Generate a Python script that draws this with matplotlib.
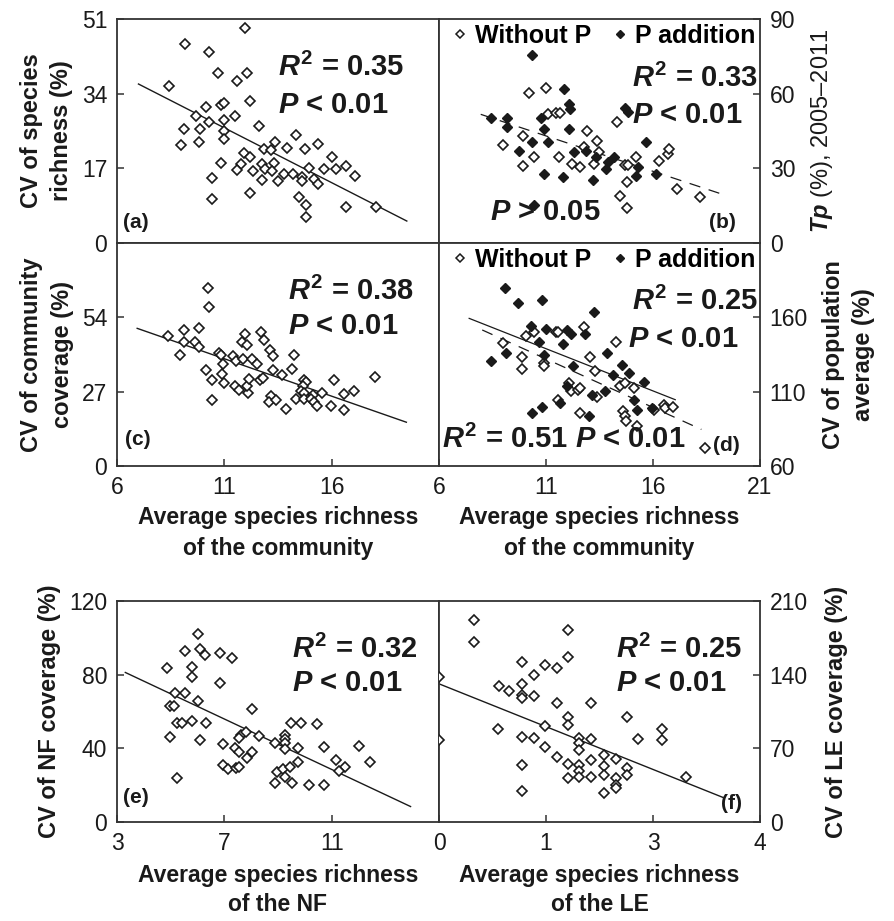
import matplotlib
matplotlib.use("Agg")
import matplotlib.pyplot as plt
from matplotlib.lines import Line2D

plt.rcParams['font.family'] = ['Liberation Sans', 'DejaVu Sans']
plt.rcParams['mathtext.fontset'] = 'custom'
plt.rcParams['mathtext.it'] = 'Liberation Sans:italic:bold'
plt.rcParams['mathtext.rm'] = 'Liberation Sans:bold'
plt.rcParams['mathtext.bf'] = 'Liberation Sans:bold'

# ---------------- data ----------------
# (a) CV of species richness vs average species richness of the community
a_x = [11.95, 9.15, 10.27, 10.70, 12.07, 11.61, 8.42, 12.18, 10.13, 10.83, 10.98, 9.66, 10.29,
       10.98, 11.50, 9.11, 9.85, 10.97, 12.61, 8.97, 9.82, 10.97, 13.34, 14.32, 15.36, 12.85,
       13.16, 13.92, 14.77, 11.92, 16.03, 12.18, 10.83, 11.76, 12.77, 13.31, 11.61, 12.34,
       12.88, 13.24, 14.94, 15.64, 16.19, 16.65, 17.07, 13.78, 14.20, 14.63, 14.63, 15.18,
       15.36, 12.77, 13.50, 10.44, 10.44, 12.18, 14.48, 14.82, 14.79, 16.65, 18.05]
a_y = [49.0, 45.4, 43.6, 38.8, 38.8, 36.8, 35.7, 32.3, 30.9, 31.4, 31.9, 28.9, 27.6,
       27.9, 29.0, 25.9, 25.9, 25.5, 26.6, 22.3, 23.1, 23.6, 23.0, 24.5, 22.6, 21.4,
       21.1, 21.7, 21.4, 20.6, 19.6, 19.5, 18.3, 18.1, 18.0, 18.3, 16.6, 16.5,
       16.8, 16.5, 17.0, 16.8, 16.8, 17.6, 15.3, 15.7, 15.7, 15.1, 14.2, 14.6,
       13.5, 14.4, 14.2, 14.7, 10.1, 11.4, 10.4, 8.7, 5.9, 8.2, 8.2]
a_fit_x = [7.0, 19.5]
a_fit_y = [36.2, 5.0]

# (b) Tp (%), 2005-2011
b_open_x = [10.19, 11.0, 11.08, 11.45, 11.65, 14.33, 9.91, 12.92, 13.39, 9.0, 10.42, 9.91,
            11.63, 12.22, 12.59, 12.77, 13.23, 13.47, 14.67, 14.83, 15.22, 16.27, 16.70,
            16.75, 14.8, 14.48, 14.8, 17.14, 18.19]
b_open_y = [60.4, 62.4, 52.0, 52.1, 52.1, 48.8, 43.1, 45.1, 41.1, 39.3, 34.4, 31.1,
            34.4, 31.7, 30.4, 38.4, 31.7, 36.4, 31.3, 31.3, 34.4, 33.1, 35.7,
            37.7, 24.4, 18.7, 14.0, 21.7, 18.4]
b_fill_x = [10.33, 11.86, 12.09, 12.14, 8.42, 9.2, 9.16, 10.77, 10.92, 12.06, 14.67, 14.83,
            9.75, 10.34, 11.08, 15.69, 12.33, 12.88, 13.34, 13.89, 14.2, 13.81, 15.30,
            15.22, 16.13, 10.89, 11.78, 13.19, 10.45]
b_fill_y = [75.7, 61.7, 55.7, 53.7, 50.4, 50.4, 46.7, 50.4, 45.7, 45.7, 54.4, 52.8,
            37.1, 40.4, 40.4, 40.4, 36.4, 36.8, 34.4, 32.4, 34.4, 29.7, 30.4,
            27.1, 27.7, 27.7, 26.4, 25.3, 15.1]
b_fit_x = [7.95, 19.2]
b_fit_y = [51.7, 19.7]

# (c) CV of community coverage
c_x = [10.25, 10.30, 9.13, 9.80, 8.39, 9.13, 9.64, 9.83, 8.94, 11.98, 12.69, 11.83, 12.06,
       12.83, 13.14, 13.27, 14.23, 10.73, 10.84, 11.42, 11.55, 11.86, 12.30, 12.53, 10.94,
       10.13, 13.27, 13.70, 14.13, 10.88, 10.41, 11.0, 11.52, 11.70, 12.09, 12.05, 12.14,
       12.67, 12.80, 13.17, 13.08, 13.42, 13.86, 10.41, 14.70, 14.81, 14.66, 14.58, 14.73,
       14.33, 14.73, 15.14, 15.05, 15.20, 15.30, 15.53, 16.11, 16.58, 17.02, 15.97, 16.59,
       18.0]
c_y = [64.5, 57.9, 49.4, 50.0, 47.2, 45.2, 45.2, 43.4, 40.4, 47.9, 48.6, 45.2, 44.0,
       45.6, 42.2, 39.8, 40.4, 41.2, 40.4, 40.0, 38.2, 38.8, 38.8, 37.0, 37.0,
       34.7, 34.7, 33.1, 35.2, 33.4, 31.3, 30.1, 28.9, 27.7, 26.5, 29.2, 31.6,
       31.1, 31.9, 25.3, 23.3, 24.1, 20.7, 24.1, 31.3, 30.4, 29.2, 27.1, 26.5,
       24.5, 24.5, 25.9, 24.4, 23.1, 21.9, 26.5, 31.1, 26.3, 27.1, 21.9, 20.2,
       32.3]
c_fit_x = [6.94, 19.48]
c_fit_y = [50.0, 15.9]

# (d) CV of population average
d_fill_x = [9.09, 9.67, 10.80, 13.26, 10.31, 11.0, 11.99, 12.15, 12.80, 11.81, 10.69, 9.13,
            8.45, 10.92, 13.83, 14.56, 14.90, 14.13, 15.56, 12.27, 11.99, 13.14, 13.75,
            15.13, 15.25, 15.97, 11.66, 10.82, 10.36, 13.03]
d_fill_y = [179.4, 169.4, 171.6, 163.8, 154.2, 152.0, 151.5, 148.8, 148.8, 142.1, 143.3, 135.9,
            130.3, 134.8, 135.9, 128.1, 122.5, 121.4, 116.5, 127.0, 113.6, 108.0, 110.2,
            104.6, 98.0, 99.1, 102.4, 99.5, 95.7, 93.9]
d_open_x = [9.01, 10.08, 10.43, 11.46, 11.58, 12.79, 14.26, 9.88, 9.88, 10.92, 10.92, 13.06,
            13.29, 12.07, 12.15, 12.50, 12.61, 13.37, 11.54, 14.44, 14.67, 15.13, 14.59,
            14.67, 14.72, 15.24, 12.61, 16.50, 16.58, 16.92, 16.05, 18.42]
d_open_y = [143.0, 147.5, 150.4, 150.4, 150.4, 153.8, 143.3, 133.2, 125.2, 129.2, 127.0, 133.2,
            123.6, 115.8, 110.2, 110.9, 112.5, 106.2, 104.6, 113.6, 115.8, 112.5, 96.8,
            93.9, 90.1, 86.8, 95.7, 101.3, 99.1, 99.7, 98.0, 72.3]
d_fit1_x = [7.41, 17.04]
d_fit1_y = [159.3, 104.6]
d_fit2_x = [8.02, 18.26]
d_fit2_y = [151.5, 84.6]

# (e) CV of NF coverage vs average species richness of the NF
e_x = [6.0, 5.54, 6.09, 6.29, 6.85, 7.28, 4.88, 5.81, 5.81, 6.85, 5.16, 5.53, 6.0, 4.96, 5.13,
       8.04, 5.25, 5.44, 5.81, 6.31, 4.98, 6.09, 9.48, 9.84, 10.44, 7.63, 7.81, 7.56, 8.28,
       8.88, 9.25, 9.25, 9.25, 9.25, 9.73, 10.73, 12.0, 6.96, 7.41, 7.54, 8.04, 7.85, 9.75,
       11.16, 12.44, 11.5, 11.29, 6.96, 7.13, 7.44, 7.56, 8.98, 9.19, 9.44, 9.25, 8.88, 9.54,
       10.15, 10.73, 5.25]
e_y = [102.2, 92.8, 93.7, 90.5, 91.6, 88.9, 83.6, 84.3, 78.6, 75.6, 70.0, 70.2, 65.6, 62.9, 62.9,
       61.2, 53.7, 54.0, 54.9, 53.7, 46.0, 44.3, 53.7, 53.7, 53.2, 47.5, 48.9, 45.7, 46.6,
       42.7, 47.5, 45.3, 43.0, 39.5, 40.0, 40.7, 41.2, 42.5, 40.0, 38.2, 38.2, 34.7, 32.7,
       33.6, 32.7, 29.7, 27.9, 30.9, 28.8, 29.2, 30.0, 27.0, 28.8, 29.7, 24.7, 21.2, 21.2,
       20.3, 20.3, 24.0]
e_fit_x = [3.31, 13.94]
e_fit_y = [81.2, 8.4]

# (f) CV of LE coverage vs average species richness of the LE
f_x = [0.44, 0.44, 1.61, 1.61, 1.03, 1.32, 1.47, 1.18, 0.0, 1.03, 0.75, 0.87, 1.03, 1.03,
       1.18, 1.47, 1.89, 1.61, 1.61, 2.34, 1.32, 0.73, 2.78, 2.78, 2.48, 1.03, 1.18, 1.75,
       1.89, 0.0, 1.75, 1.32, 1.75, 1.47, 1.61, 1.75, 1.89, 2.05, 2.2, 2.05, 2.34, 1.75,
       1.89, 2.05, 1.61, 1.75, 2.2, 2.2, 2.2, 2.34, 1.03, 1.03, 2.05, 3.08]
f_y = [192.0, 171.1, 182.0, 157.1, 152.4, 149.0, 145.9, 140.0, 138.1, 131.3, 129.1, 124.4, 121.0, 118.0,
       119.8, 113.2, 113.2, 100.2, 91.8, 99.6, 90.8, 88.4, 88.4, 77.8, 79.0, 80.6, 80.0, 80.0,
       79.0, 77.8, 75.3, 71.2, 68.1, 61.3, 55.1, 54.1, 58.8, 63.8, 59.7, 53.5, 51.0, 48.8,
       43.2, 44.2, 41.7, 43.2, 41.7, 35.5, 32.3, 44.2, 54.1, 29.5, 28.0, 43.2]
f_fit_x = [0.0, 3.54]
f_fit_y = [131.3, 23.3]

xticks_comm = [6, 11, 16, 21]
xticks_nf = [3, 7, 11, 15]
xticks_le = [0, 4 / 3, 8 / 3, 4]

# ---------------- layout ----------------
W, H = 894, 921
fig = plt.figure(figsize=(W / 100, H / 100), dpi=100)


def add_ax(l, r, t, b):
    return fig.add_axes([l / W, (H - b) / H, (r - l) / W, (b - t) / H])


axa = add_ax(117, 439, 19, 243)
axb = add_ax(439, 760, 19, 243)
axc = add_ax(117, 439, 243, 466)
axd = add_ax(439, 760, 243, 466)
axe = add_ax(117, 439, 601, 822)
axf = add_ax(439, 760, 601, 822)

INK = '#1a1a1a'
TICKFS = 16.5
LABFS = 17
XLABFS = 16.5
ANNFS = 21
MS = 5.4

for ax in [axa, axb, axc, axd, axe, axf]:
    for s in ax.spines.values():
        s.set_linewidth(1.3)
        s.set_color('#333333')
    ax.tick_params(direction='in', length=5, width=1.1, colors='#333333',
                   labelsize=TICKFS, labelcolor=INK, pad=7)


def open_pts(ax, x, y):
    ax.plot(x, y, linestyle='none', marker='D', markersize=MS, markerfacecolor='white',
            markeredgecolor=INK, markeredgewidth=1.2, zorder=3)


def fill_pts(ax, x, y):
    ax.plot(x, y, linestyle='none', marker='D', markersize=MS, markerfacecolor=INK,
            markeredgecolor=INK, markeredgewidth=1.0, zorder=3)


def stat(ax, x, y, txt, ha='left'):
    ax.text(x, y, txt, transform=ax.transAxes, fontsize=ANNFS, fontweight='bold',
            ha=ha, va='center', color=INK, zorder=5)


def plabel(ax, x, y, txt):
    ax.text(x, y, txt, transform=ax.transAxes, fontsize=15, fontweight='bold',
            ha='left', va='center', color=INK, zorder=5)


def legend(ax):
    hs = [Line2D([], [], linestyle='none', marker='D', markersize=4.5, markerfacecolor='white',
                 markeredgecolor=INK, markeredgewidth=1.1),
          Line2D([], [], linestyle='none', marker='D', markersize=4.5, markerfacecolor=INK,
                 markeredgecolor=INK)]
    ax.legend(hs, ['Without P', 'P addition'], loc='upper right', ncol=2, frameon=False,
              prop={'weight': 'bold', 'size': 18}, handlelength=0.5, handletextpad=0.35,
              columnspacing=0.9, borderaxespad=0.05, borderpad=0.15)


# (a)
open_pts(axa, a_x, a_y)
axa.plot(a_fit_x, a_fit_y, color=INK, lw=1.0)
axa.set_xlim(6, 21)
axa.set_ylim(0, 51)
axa.set_yticks([0, 17, 34, 51])
axa.set_xticks(xticks_comm)
axa.tick_params(bottom=False, labelbottom=False)
stat(axa, 0.50, 0.785, r'$R^{2}$ = 0.35')
stat(axa, 0.50, 0.615, r'$P$ < 0.01')
plabel(axa, 0.02, 0.09, '(a)')
axa.set_ylabel('CV of species\nrichness (%)', fontsize=LABFS, fontweight='bold', color=INK,
               labelpad=6, linespacing=1.4)

# (b)
open_pts(axb, b_open_x, b_open_y)
fill_pts(axb, b_fill_x, b_fill_y)
axb.plot(b_fit_x, b_fit_y, color=INK, lw=0.9, linestyle=(0, (9, 7)))
axb.set_xlim(6, 21)
axb.set_ylim(0, 90)
axb.set_yticks([0, 30, 60, 90])
axb.set_xticks(xticks_comm)
axb.tick_params(left=False, labelleft=False, right=True, labelright=True,
                bottom=False, labelbottom=False)
legend(axb)
stat(axb, 0.995, 0.737, r'$R^{2}$ = 0.33', ha='right')
stat(axb, 0.60, 0.57, r'$P$ < 0.01')
stat(axb, 0.16, 0.14, r'$P$ > 0.05')
plabel(axb, 0.84, 0.09, '(b)')
axb.yaxis.set_label_position('right')
axb.set_ylabel(r'$Tp$ (%), 2005–2011', fontsize=LABFS, color=INK, labelpad=10)

# (c)
open_pts(axc, c_x, c_y)
axc.plot(c_fit_x, c_fit_y, color=INK, lw=1.0)
axc.set_xlim(6, 21)
axc.set_ylim(0, 81)
axc.set_yticks([0, 27, 54, 81], ['0', '27', '54', ''])
axc.set_xticks(xticks_comm, ['6', '11', '16', ''])
stat(axc, 0.53, 0.785, r'$R^{2}$ = 0.38')
stat(axc, 0.53, 0.63, r'$P$ < 0.01')
plabel(axc, 0.025, 0.12, '(c)')
axc.set_ylabel('CV of community\ncoverage (%)', fontsize=LABFS, fontweight='bold', color=INK,
               labelpad=6, linespacing=1.4)
axc.set_xlabel('Average species richness\nof the community', fontsize=XLABFS,
               fontweight='bold', color=INK, labelpad=5, linespacing=1.45)

# (d)
open_pts(axd, d_open_x, d_open_y)
fill_pts(axd, d_fill_x, d_fill_y)
axd.plot(d_fit1_x, d_fit1_y, color=INK, lw=0.9)
axd.plot(d_fit2_x, d_fit2_y, color=INK, lw=0.9, linestyle=(0, (9, 7)))
axd.set_xlim(6, 21)
axd.set_ylim(60, 210)
axd.set_yticks([60, 110, 160, 210], ['60', '110', '160', ''])
axd.set_xticks(xticks_comm)
axd.tick_params(left=False, labelleft=False, right=True, labelright=True)
legend(axd)
stat(axd, 0.995, 0.74, r'$R^{2}$ = 0.25', ha='right')
stat(axd, 0.59, 0.57, r'$P$ < 0.01')
stat(axd, 0.01, 0.12, r'$R^{2}$ = 0.51 $P$ < 0.01')
plabel(axd, 0.855, 0.09, '(d)')
axd.yaxis.set_label_position('right')
axd.set_ylabel('CV of population\naverage (%)', fontsize=LABFS, fontweight='bold', color=INK,
               labelpad=10, linespacing=1.4)
axd.set_xlabel('Average species richness\nof the community', fontsize=XLABFS,
               fontweight='bold', color=INK, labelpad=5, linespacing=1.45)

# (e)
open_pts(axe, e_x, e_y)
axe.plot(e_fit_x, e_fit_y, color=INK, lw=1.0)
axe.set_xlim(3, 15)
axe.set_ylim(0, 120)
axe.set_yticks([0, 40, 80, 120])
axe.set_xticks(xticks_nf, ['3', '7', '11', ''])
stat(axe, 0.545, 0.78, r'$R^{2}$ = 0.32')
stat(axe, 0.545, 0.63, r'$P$ < 0.01')
plabel(axe, 0.02, 0.11, '(e)')
axe.set_ylabel('CV of NF coverage (%)', fontsize=LABFS, fontweight='bold', color=INK,
               labelpad=6)
axe.set_xlabel('Average species richness\nof the NF', fontsize=XLABFS,
               fontweight='bold', color=INK, labelpad=7, linespacing=1.3)

# (f)
open_pts(axf, f_x, f_y)
axf.plot(f_fit_x, f_fit_y, color=INK, lw=1.0)
axf.set_xlim(0, 4)
axf.set_ylim(0, 210)
axf.set_yticks([0, 70, 140, 210])
axf.set_xticks(xticks_le, ['0', '1', '3', '4'])
axf.tick_params(left=False, labelleft=False, right=True, labelright=True)
stat(axf, 0.55, 0.78, r'$R^{2}$ = 0.25')
stat(axf, 0.55, 0.63, r'$P$ < 0.01')
plabel(axf, 0.88, 0.085, '(f)')
axf.yaxis.set_label_position('right')
axf.set_ylabel('CV of LE coverage (%)', fontsize=LABFS, fontweight='bold', color=INK,
               labelpad=12)
axf.set_xlabel('Average species richness\nof the LE', fontsize=XLABFS,
               fontweight='bold', color=INK, labelpad=7, linespacing=1.3)

fig.savefig('out.png', dpi=100, facecolor='white')
